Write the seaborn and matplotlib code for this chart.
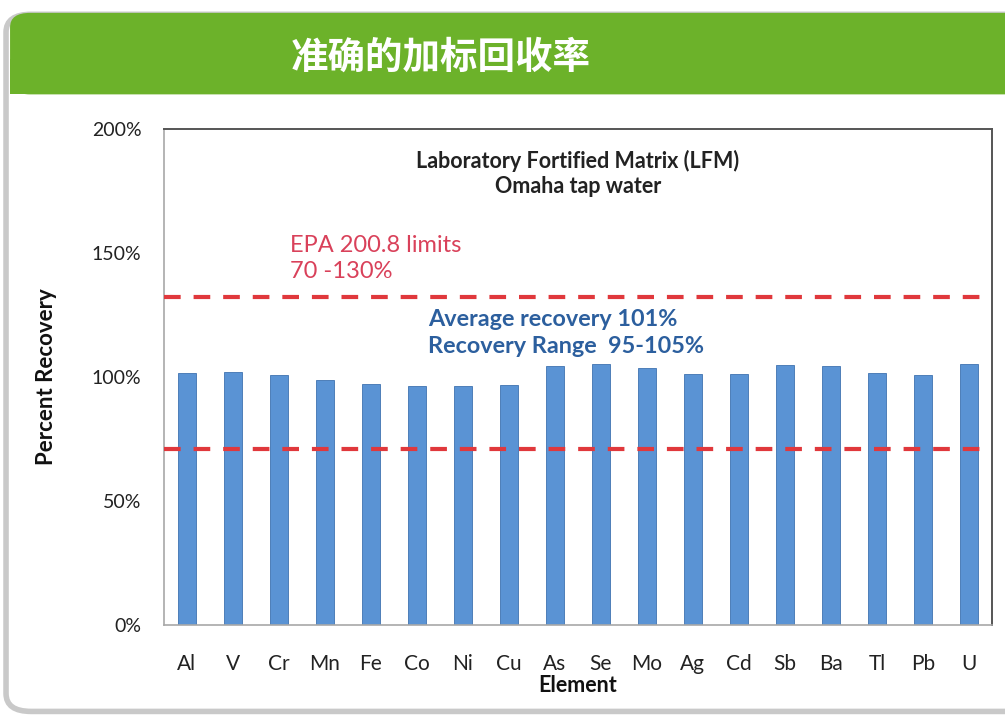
import matplotlib
matplotlib.use("Agg")
import matplotlib.pyplot as plt
import seaborn as sns
import pandas as pd
from matplotlib.patches import FancyBboxPatch, Rectangle
from matplotlib.ticker import FixedLocator, FuncFormatter

# data
elements = ["Al", "V", "Cr", "Mn", "Fe", "Co", "Ni", "Cu", "As",
            "Se", "Mo", "Ag", "Cd", "Sb", "Ba", "Tl", "Pb", "U"]
recovery = [101.7, 102.0, 100.8, 98.9, 97.2, 96.1, 96.4, 96.8, 104.4,
            105.2, 103.5, 101.1, 101.1, 104.6, 104.2, 101.7, 100.7, 105.1]
limits = [71, 132]

df = pd.DataFrame({"Element": elements, "Recovery": recovery})

sns.set_style("white")
plt.rcParams["font.family"] = ["Lato", "Noto Sans CJK SC", "DejaVu Sans"]

fig = plt.figure(figsize=(10.05, 7.15), dpi=100)

# outer card + green header (behind the axes)
card = FancyBboxPatch((0.006, 0.005), 1.05, 0.975, boxstyle="round,pad=0,rounding_size=0.025",
                      transform=fig.transFigure, facecolor="white", edgecolor="#c9c9c9",
                      linewidth=4, zorder=-3)
fig.patches.append(card)
header = FancyBboxPatch((0.010, 0.868), 1.05, 0.114, boxstyle="round,pad=0,rounding_size=0.02",
                        transform=fig.transFigure, facecolor="#6cb22a", edgecolor="none", zorder=-2)
fig.patches.append(header)
fig.patches.append(Rectangle((0.010, 0.868), 1.0, 0.05, transform=fig.transFigure,
                             facecolor="#6cb22a", edgecolor="none", zorder=-2))
fig.text(0.438, 0.920, "准确的加标回收率", ha="center", va="center", color="white",
         fontsize=27, fontweight="heavy", family=["Noto Sans CJK SC", "DejaVu Sans"])

ax = fig.add_axes([0.163, 0.126, 0.824, 0.694])
sns.barplot(data=df, x="Element", y="Recovery", color="#5a93d4", width=0.39,
            edgecolor="#3f73b0", linewidth=0.6, saturation=1, ax=ax)

for lim in limits:
    ax.axhline(lim, color="#e0383c", linestyle=(0, (4, 3.1)), linewidth=3, zorder=3)

ax.set_xlim(-0.5, len(elements) - 0.5)
ax.set_ylim(0, 200)
ax.set_yticks([0, 50, 100, 150, 200])
ax.yaxis.set_major_formatter(FuncFormatter(lambda v, p: f"{v:.0f}%"))
ax.tick_params(axis="y", labelsize=14, length=5, color="#a0a0a0", pad=11, labelcolor="#222222")
ax.tick_params(axis="x", which="major", labelsize=15, length=0, pad=21, labelcolor="#222222")
ax.xaxis.set_minor_locator(FixedLocator([i - 0.5 for i in range(len(elements) + 1)]))
ax.tick_params(axis="x", which="minor", length=5, color="#a0a0a0", direction="out")

for side in ["left", "bottom"]:
    ax.spines[side].set_color("#a8a8a8")
    ax.spines[side].set_linewidth(1.2)
for side in ["top", "right"]:
    ax.spines[side].set_visible(True)
    ax.spines[side].set_color("#555555")
    ax.spines[side].set_linewidth(1.4)

ax.set_xlabel("Element", fontsize=15.5, fontweight="bold", labelpad=1, color="#111111")
ax.set_ylabel("Percent Recovery", fontsize=16, fontweight="bold", labelpad=25, color="#111111")

ax.text(0.5, 0.910, "Laboratory Fortified Matrix (LFM)\nOmaha tap water", transform=ax.transAxes,
        ha="center", va="center", fontsize=15.5, fontweight="bold", color="#222222", linespacing=1.25)
ax.text(0.152, 0.738, "EPA 200.8 limits\n70 -130%", transform=ax.transAxes,
        ha="left", va="center", fontsize=17, color="#d9415a", linespacing=1.27)
ax.text(0.319, 0.588, "Average recovery 101%\nRecovery Range  95-105%", transform=ax.transAxes,
        ha="left", va="center", fontsize=16.8, fontweight="bold", color="#2c5f9e", linespacing=1.33)

fig.savefig("out.png", dpi=100)
